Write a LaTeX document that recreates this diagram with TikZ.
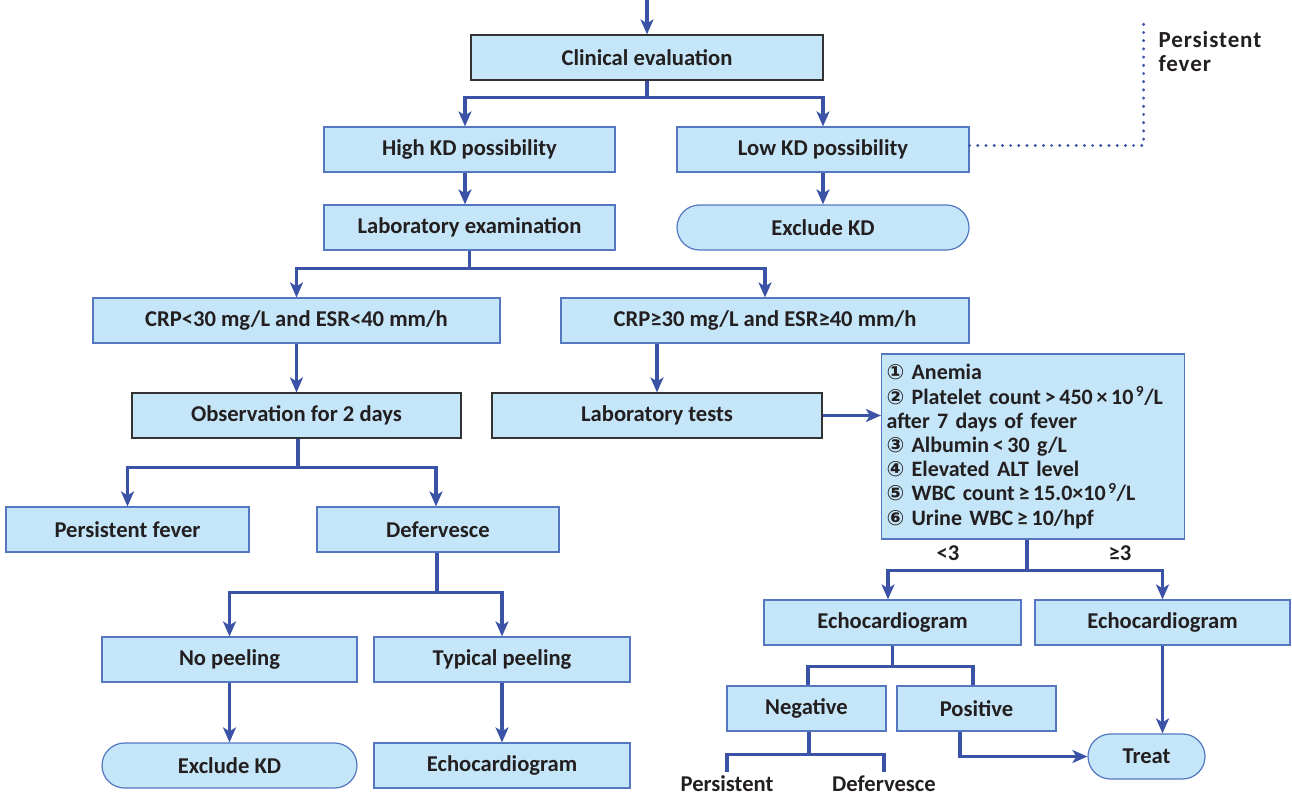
\documentclass[tikz,border=0pt]{standalone}
\usepackage{fontspec}
\setmainfont{Carlito}
\newfontfamily\djv{DejaVu Sans}
\usetikzlibrary{arrows.meta,calc,shapes.misc}
\definecolor{lineblue}{HTML}{3B53A6}
\definecolor{boxfill}{HTML}{C4E6F8}
\definecolor{boxedge}{HTML}{5577C0}
\definecolor{txt}{HTML}{231F20}
\newcommand{\cn}[1]{{\djv\fontsize{21}{24}\selectfont #1}}
\begin{document}
\begin{tikzpicture}[x=1pt,y=-1pt,
  mainfont/.style={font=\fontsize{22.6}{24}\selectfont\bfseries, text=txt},
  box/.style={mainfont, draw=boxedge, fill=boxfill, line width=1.2pt, minimum height=45pt, inner sep=0pt, rectangle},
  darkbox/.style={box, draw=black!80},
  roundbox/.style={box, rounded rectangle},
  conn/.style={draw=lineblue, line width=3.6pt},
  arr/.style={conn, -{Stealth[length=15pt,width=13pt,inset=4pt]}},
  dots/.style={draw=lineblue, line width=3.2pt, line cap=round, dash pattern=on 0pt off 8.2pt},
  lbl/.style={mainfont}
]
\useasboundingbox (0,0) rectangle (1292,796);

% nodes
\node[darkbox, minimum width=352pt] (clin) at (647,57.5) {Clinical evaluation};
\node[box, minimum width=291pt] (high) at (469.5,149.5) {High KD possibility};
\node[box, minimum width=292pt] (low) at (823,149.5) {Low KD possibility};
\node[roundbox, minimum width=292pt] (exc1) at (823,227.5) {Exclude KD};
\node[box, minimum width=291pt] (lab) at (469.5,227.5) {Laboratory examination};
\node[box, minimum width=407pt] (crpl) at (296.5,320.5) {CRP<30 mg/L and ESR<40 mm/h};
\node[box, minimum width=408pt] (crph) at (765,320.5) {CRP≥30 mg/L and ESR≥40 mm/h};
\node[darkbox, minimum width=329pt] (obs) at (296.5,415.5) {Observation for 2 days};
\node[darkbox, minimum width=330pt] (labt) at (657,415.5) {Laboratory tests};
\node[box, minimum width=303pt, minimum height=185pt, text width=293pt, align=left,
      font=\fontsize{22}{24.2}\selectfont\bfseries] (list) at (1033,446.5)
 {\cn{①} Anemia\\
  \cn{②} Platelet count\,>\,450\,×\,10\textsuperscript{\,9}/L\\
  after 7 days of fever\\
  \cn{③} Albumin\,<\,30 g/L\\
  \cn{④} Elevated ALT level\\
  \cn{⑤} WBC count\,≥\,15.0×10\textsuperscript{\,9}/L\\
  \cn{⑥} Urine WBC\,≥\,10/hpf};
\node[box, minimum width=243pt] (pf) at (127.5,529.5) {Persistent fever};
\node[box, minimum width=242pt] (def) at (438,529.5) {Defervesce};
\node[box, minimum width=255pt] (nop) at (229.5,659.5) {No peeling};
\node[box, minimum width=256pt] (typ) at (502,659.5) {Typical peeling};
\node[roundbox, minimum width=255pt] (exc2) at (229.5,765.5) {Exclude KD};
\node[box, minimum width=256pt] (echo1) at (502,765.5) {Echocardiogram};
\node[box, minimum width=257pt] (echoL) at (892.5,622.5) {Echocardiogram};
\node[box, minimum width=255pt] (echoR) at (1162.5,622.5) {Echocardiogram};
\node[box, minimum width=159pt] (neg) at (806.5,708.5) {Negative};
\node[box, minimum width=159pt] (pos) at (976.5,708.5) {Positive};
\node[roundbox, minimum width=117pt] (treat) at (1146.5,756.5) {Treat};

% free labels
\node[lbl, anchor=north west, align=left, font=\fontsize{23}{24}\selectfont\bfseries] (pfnote) at (1155,28) {\addfontfeatures{LetterSpace=4}Persistent\\\addfontfeatures{LetterSpace=4}fever};
\node[lbl] (lt3) at (948,553) {<3};
\node[lbl] (ge3) at (1120,553) {≥3};
\node[lbl, anchor=base] (negp) at (727,791) {Persistent};
\node[lbl, anchor=base] (negd) at (884,791) {Defervesce};
\coordinate (top) at (647,0);

% connectors
\draw[arr] (top) -- (clin.north);
\draw[conn] (clin.south) -- ++(0,17) coordinate (c1);
\draw[arr] (c1) -| ([xshift=-4.5pt]high.north);
\draw[arr] (c1) -| (low.north);
\draw[arr] ([xshift=-4.5pt]high.south) -- ([xshift=-4.5pt]lab.north);
\draw[arr] (low.south) -- (exc1.north);
\draw[dots] ([yshift=4pt]low.east) -- ++(174,0) coordinate (d1) -- (d1 |- 0,22);

\draw[conn] (lab.south) -- ++(0,18) coordinate (c2);
\draw[arr] (c2) -| (crpl.north);
\draw[arr] (c2) -| (crph.north);
\draw[arr] (crpl.south) -- (obs.north);
\draw[arr] (crph.south -| labt.north) -- (labt.north);
\draw[arr] (labt.east) -- (list.west |- labt.east);

\draw[conn] ([xshift=1.5pt]obs.south) -- ++(0,29) coordinate (c3);
\draw[arr] (c3) -| (pf.north);
\draw[arr] (c3) -| ([xshift=-2pt]def.north);
\draw[conn] ([xshift=-1pt]def.south) -- ++(0,40) coordinate (c4);
\draw[arr] (c4) -| (nop.north);
\draw[arr] (c4) -| (typ.north);
\draw[arr] (nop.south) -- (exc2.north);
\draw[arr] (typ.south) -- (echo1.north);

\draw[conn] ([xshift=-6pt]list.south) -- ++(0,31) coordinate (c5);
\draw[arr] (c5) -| ([xshift=-4.5pt]echoL.north);
\draw[arr] (c5) -| (echoR.north);
\draw[conn] (echoL.south) -- ++(0,21) coordinate (c6);
\draw[conn] (c6) -| ([xshift=1.5pt]neg.north);
\draw[conn] (c6) -| ([xshift=-3.5pt]pos.north);
\draw[conn] ([xshift=2.5pt]neg.south) -- ++(0,23) coordinate (c7);
\draw[conn] (c7) -| (negp.north |- 0,772);
\draw[conn] (c7) -| (negd.north |- 0,772);
\draw[arr] ([xshift=-16.5pt]pos.south) |- (treat.west);
\draw[arr] (echoR.south) -- (echoR.south |- treat.north);
\end{tikzpicture}
\end{document}
